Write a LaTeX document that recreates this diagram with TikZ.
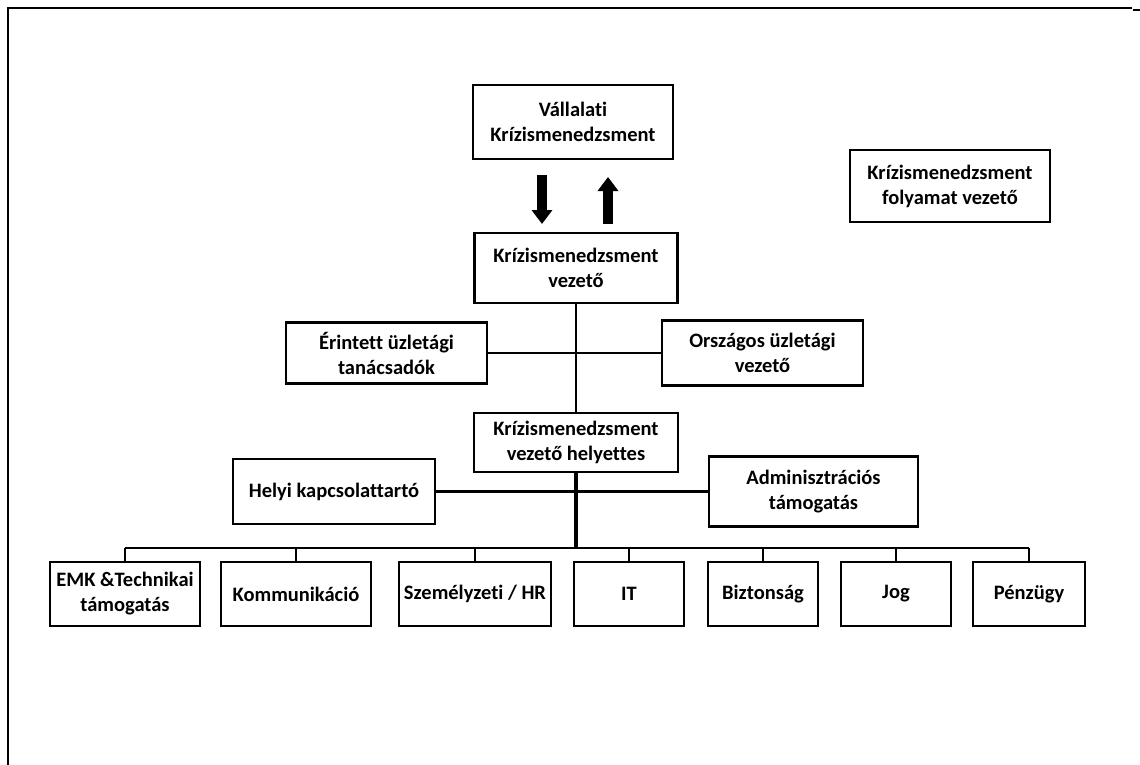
\documentclass[tikz,border=0pt]{standalone}
\usepackage{fontspec}
\setmainfont{Carlito}[Ligatures=NoCommon]
\usetikzlibrary{arrows.meta}
\tikzset{
  box/.style={draw=black, line width=2.4pt, fill=white, align=center, inner sep=0pt,
    font=\fontsize{20.5}{25}\selectfont\bfseries, text=black},
  conn/.style={line width=2.2pt, draw=black},
  thickconn/.style={line width=3.2pt, draw=black},
  blockarrow/.style={line width=10pt, -{Triangle[length=14pt,width=20pt]}},
  frame/.style={line width=1.6pt, draw=black}
}
\begin{document}
\begin{tikzpicture}[x=1pt,y=-1pt]
\useasboundingbox (0,0) rectangle (1140,765);
% frame
\draw[frame] (8,766) -- (8,8) -- (1132,8);
\draw[line width=2pt] (1133,10) -- (1140,10);
% boxes
\node[box, minimum width=200pt, minimum height=74pt] (v) at (573,122) {Vállalati\\Krízismenedzsment};
\node[box, minimum width=203pt, minimum height=70pt] (kv) at (576,268) {Krízismenedzsment\\vezető};
\node[box, minimum width=200pt, minimum height=72pt] (fv) at (950,186) {Krízismenedzsment\\folyamat vezető};
\node[box, minimum width=201pt, minimum height=61pt] (er) at (386.5,353) {Érintett üzletági\\tanácsadók};
\node[box, minimum width=201pt, minimum height=65pt] (or) at (762.5,353) {Országos üzletági\\vezető};
\node[box, minimum width=204pt, minimum height=59pt] (kh) at (576,442.5) {Krízismenedzsment\\vezető helyettes};
\node[box, minimum width=202pt, minimum height=65pt] (hk) at (334,491.5) {Helyi kapcsolattartó};
\node[box, minimum width=209pt, minimum height=70pt] (ad) at (813.5,491.5) {Adminisztrációs\\támogatás};
% bottom row
\node[box, minimum width=150pt, minimum height=64pt] (emk) at (125,594) {EMK \&Technikai\\támogatás};
\node[box, minimum width=150pt, minimum height=64pt] (kom) at (296,594) {Kommunikáció};
\node[box, minimum width=152pt, minimum height=64pt] (hr) at (475,594) {Személyzeti / HR};
\node[box, minimum width=110pt, minimum height=64pt] (it) at (629,594) {IT};
\node[box, minimum width=110pt, minimum height=64pt] (bt) at (763,594) {Biztonság};
\node[box, minimum width=110pt, minimum height=64pt] (jog) at (896,594) {Jog};
\node[box, minimum width=112pt, minimum height=64pt] (pz) at (1029,594) {Pénzügy};
% block arrows between v and kv
\coordinate (d1) at (542,175);
\coordinate (d2) at (542,224);
\coordinate (u1) at (608,224);
\coordinate (u2) at (608,177);
\draw[blockarrow] (d1) -- (d2);
\draw[blockarrow] (u1) -- (u2);
% connectors
\draw[conn] (kv.south) -- (kh.north);
\draw[conn] (er.east) -- (or.west);
\draw[conn] (hk.east) -- (ad.west);
\coordinate (bus) at (576,548);
\draw[thickconn] (kh.south) -- (bus);
\draw[conn] (emk.north |- bus) -- (pz.north |- bus);
\foreach \b in {emk,kom,hr,it,bt,jog,pz}{
  \draw[conn] (\b.north) -- (\b.north |- bus);
}
\end{tikzpicture}
\end{document}
